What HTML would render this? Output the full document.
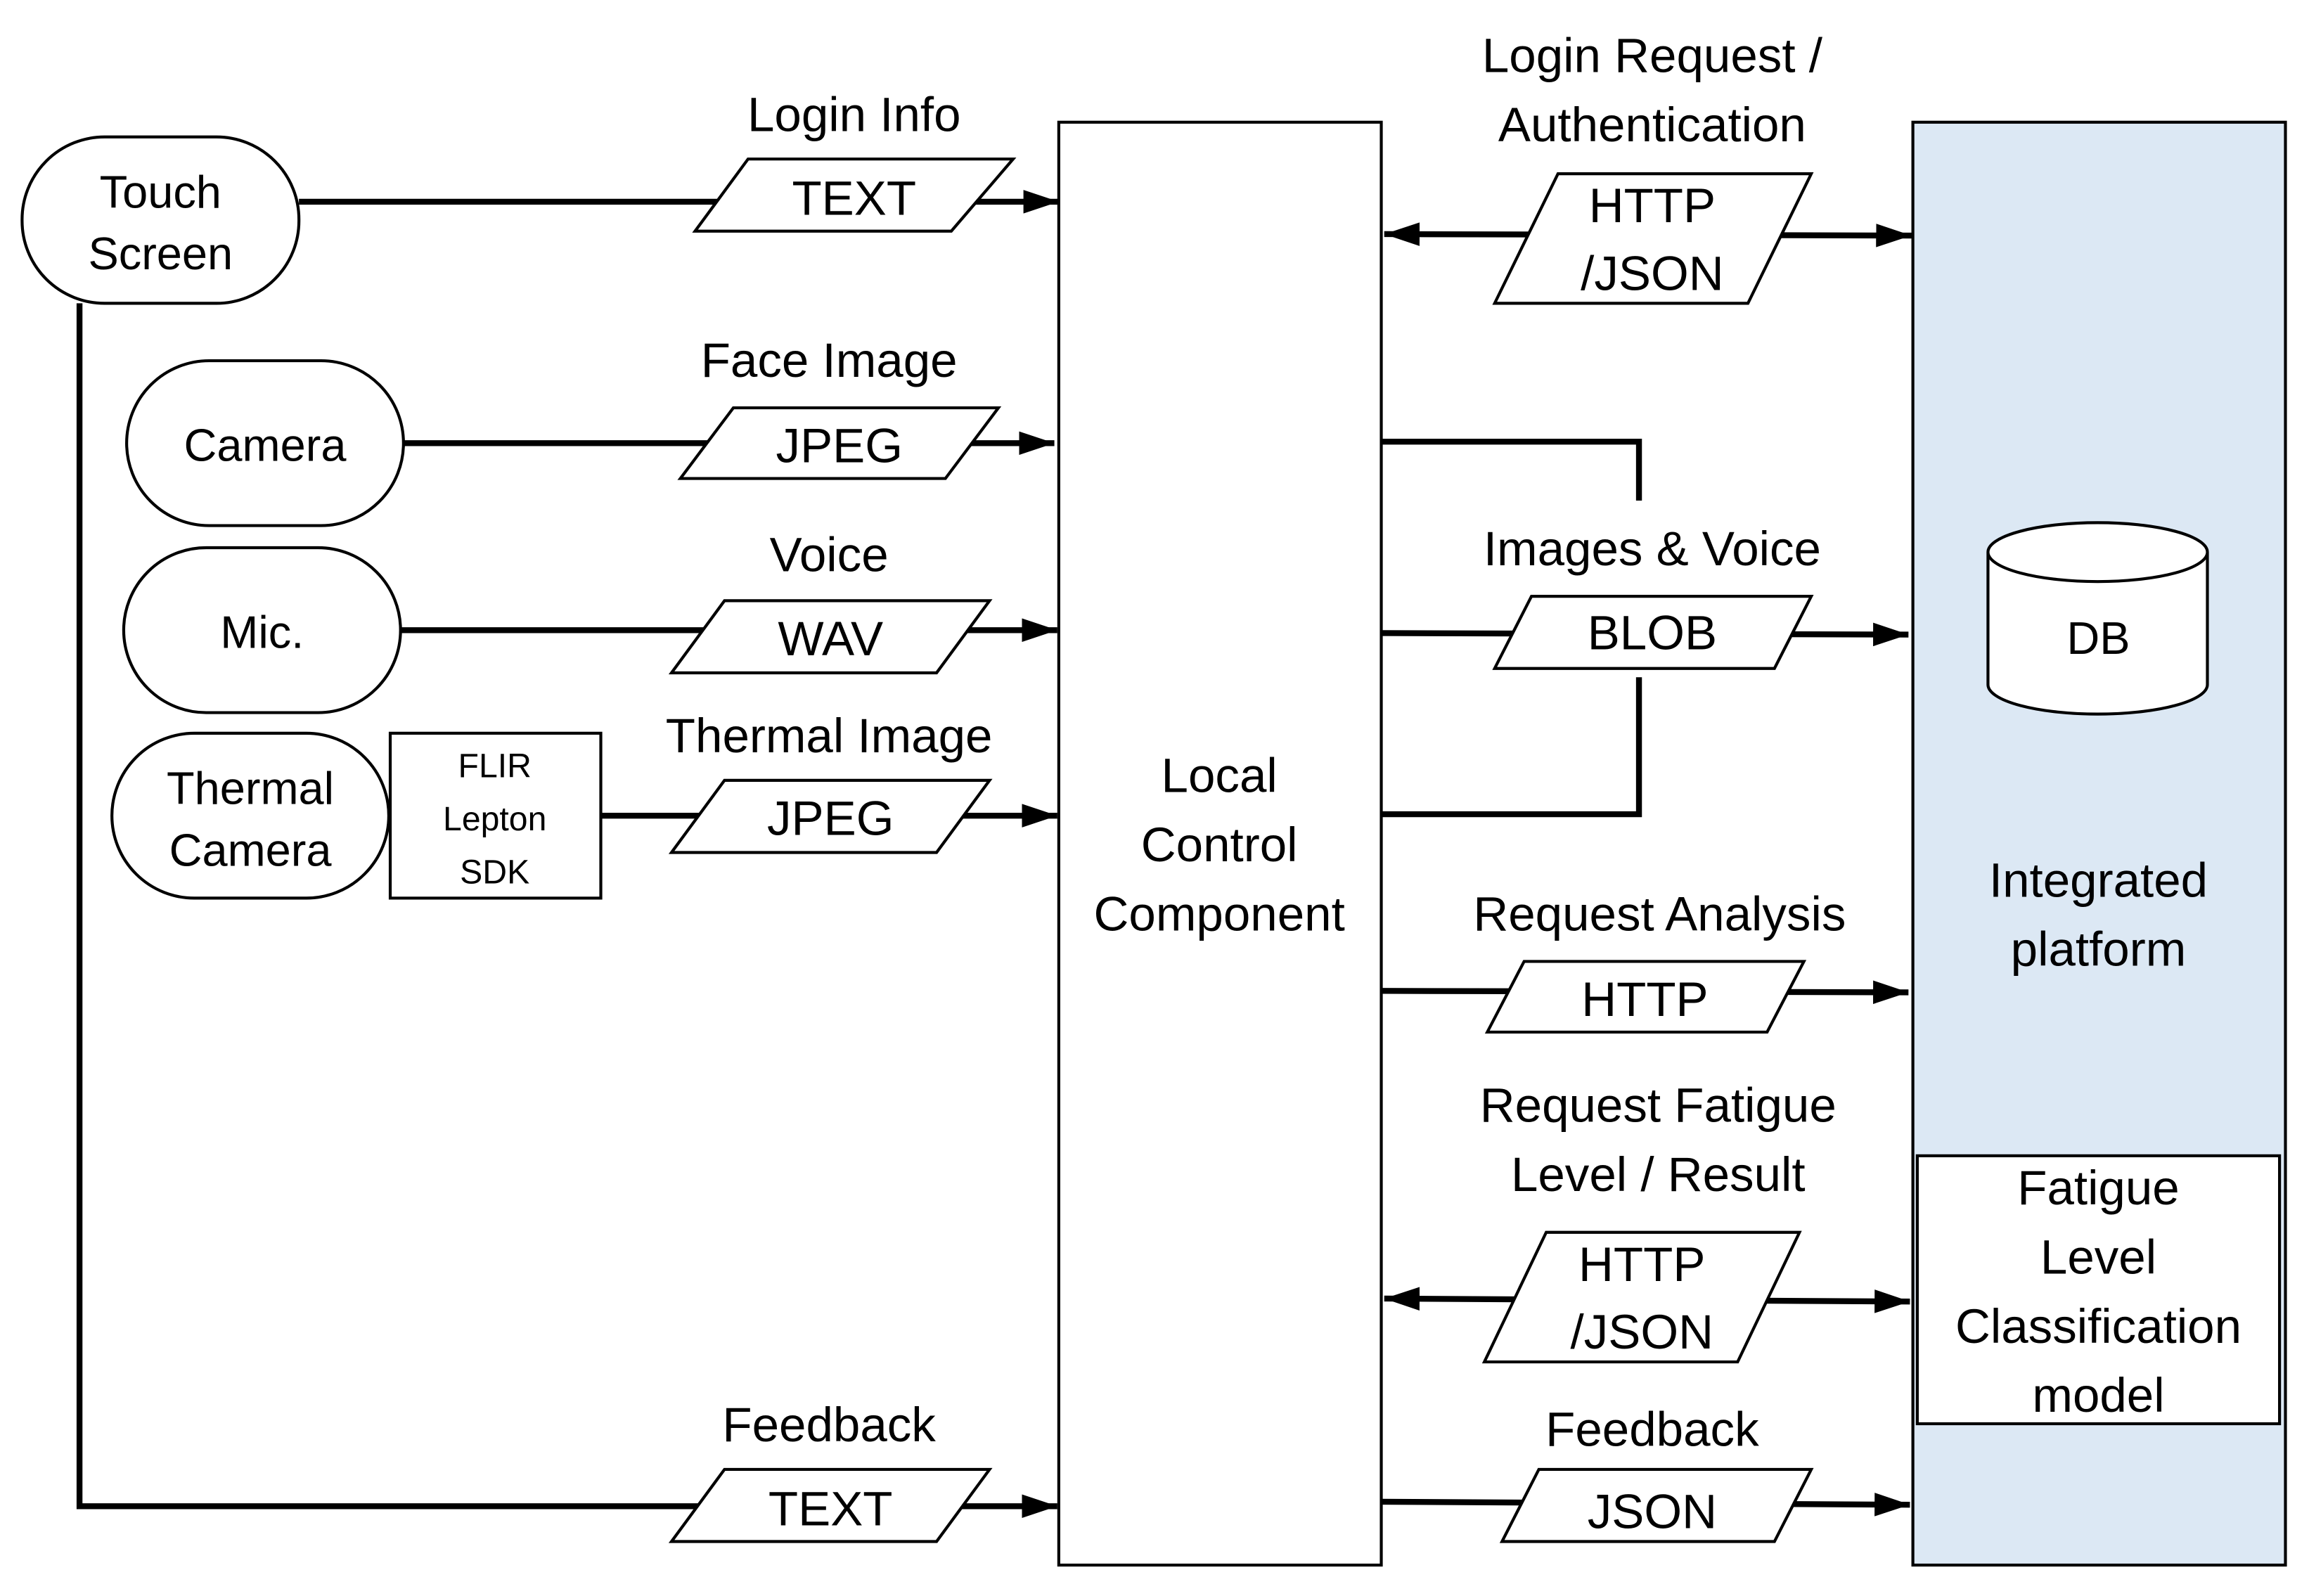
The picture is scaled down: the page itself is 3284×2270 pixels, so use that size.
<!DOCTYPE html>
<html><head><meta charset="utf-8"><style>html,body{margin:0;padding:0;background:#fff}svg{display:block}text{font-family:"Liberation Sans",sans-serif;fill:#000;text-anchor:middle}</style></head>
<body>
<svg width="3284" height="2270" viewBox="0 0 1568 1084" preserveAspectRatio="none" xmlns="http://www.w3.org/2000/svg">
<defs><marker id="a" markerWidth="6" markerHeight="4" refX="6" refY="2" orient="auto" markerUnits="strokeWidth"><path d="M0,0L6,2L0,4z" fill="#000"/></marker>
<marker id="b" markerWidth="6" markerHeight="4" refX="0" refY="2" orient="auto" markerUnits="strokeWidth"><path d="M6,0L0,2L6,4z" fill="#000"/></marker></defs>
<g stroke="#000" stroke-width="4" fill="none">
<line x1="203" y1="137" x2="719" y2="137" marker-end="url(#a)"/>
<line x1="274" y1="301" x2="716" y2="301" marker-end="url(#a)"/>
<line x1="272" y1="428" x2="718" y2="428" marker-end="url(#a)"/>
<line x1="408" y1="554" x2="718" y2="554" marker-end="url(#a)"/>
<polyline points="54,206 54,1023 718,1023" marker-end="url(#a)"/>
<line x1="940" y1="159" x2="1298" y2="160" marker-start="url(#b)" marker-end="url(#a)"/>
<polyline points="938,300 1113,300 1113,340"/>
<polyline points="938,553 1113,553 1113,460"/>
<line x1="938" y1="430" x2="1296" y2="431" marker-end="url(#a)"/>
<line x1="938" y1="673" x2="1296" y2="674" marker-end="url(#a)"/>
<line x1="940" y1="882" x2="1297" y2="884" marker-start="url(#b)" marker-end="url(#a)"/>
<line x1="938" y1="1020" x2="1297" y2="1022" marker-end="url(#a)"/>
</g>
<g stroke="#000" stroke-width="2" fill="#fff">
<rect x="15" y="93" width="188" height="113" rx="56"/>
<rect x="86" y="245" width="188" height="112" rx="56"/>
<rect x="84" y="372" width="188" height="112" rx="56"/>
<rect x="76" y="498" width="188" height="112" rx="56"/>
<rect x="265" y="498" width="143" height="112"/>
<rect x="719" y="83" width="219" height="980"/>
<rect x="1299" y="83" width="253" height="980" fill="#dce8f4"/>
<rect x="1302" y="785" width="246" height="182"/>
<path d="M1350,375 L1350,465 A74.5,20 0 0 0 1499,465 L1499,375 A74.5,20 0 0 0 1350,375 A74.5,20 0 0 0 1499,375"/>
<polygon points="472,157 508,108 688,108 646,157"/>
<polygon points="462,325 498,277 678,277 642,325"/>
<polygon points="456,457 492,408 672,408 636,457"/>
<polygon points="456,579 492,530 672,530 636,579"/>
<polygon points="456,1047 492,998 672,998 636,1047"/>
<polygon points="1015,206 1058,118 1230,118 1187,206"/>
<polygon points="1015,454 1040,405 1230,405 1205,454"/>
<polygon points="1010,701 1035,653 1225,653 1200,701"/>
<polygon points="1008,925 1050,837 1222,837 1180,925"/>
<polygon points="1020,1047 1045,998 1230,998 1205,1047"/>
</g>
<g font-size="31">
<text x="109" y="141">Touch</text><text x="109" y="183">Screen</text>
<text x="180" y="313">Camera</text>
<text x="178" y="440">Mic.</text>
<text x="170" y="546">Thermal</text><text x="170" y="588">Camera</text>
<text x="1425" y="444">DB</text>
</g>
<g font-size="23"><text x="336" y="528">FLIR</text><text x="336" y="564">Lepton</text><text x="336" y="600">SDK</text></g>
<g font-size="33">
<text x="580" y="89">Login Info</text><text x="580" y="146">TEXT</text>
<text x="563" y="256">Face Image</text><text x="570" y="314">JPEG</text>
<text x="563" y="388">Voice</text><text x="564" y="445">WAV</text>
<text x="563" y="511">Thermal Image</text><text x="564" y="567">JPEG</text>
<text x="563" y="979">Feedback</text><text x="564" y="1036">TEXT</text>
<text x="828" y="538">Local</text><text x="828" y="585">Control</text><text x="828" y="632">Component</text>
<text x="1122" y="49">Login Request /</text><text x="1122" y="96">Authentication</text>
<text x="1122" y="151">HTTP</text><text x="1122" y="197">/JSON</text>
<text x="1122" y="384">Images &amp; Voice</text><text x="1122" y="441">BLOB</text>
<text x="1127" y="632">Request Analysis</text><text x="1117" y="690">HTTP</text>
<text x="1126" y="762">Request Fatigue</text><text x="1126" y="809">Level / Result</text>
<text x="1115" y="870">HTTP</text><text x="1115" y="916">/JSON</text>
<text x="1122" y="982">Feedback</text><text x="1122" y="1038">JSON</text>
<text x="1425" y="609">Integrated</text><text x="1425" y="656">platform</text>
<text x="1425" y="818">Fatigue</text><text x="1425" y="865">Level</text><text x="1425" y="912">Classification</text><text x="1425" y="959">model</text>
</g>
</svg>
</body></html>
